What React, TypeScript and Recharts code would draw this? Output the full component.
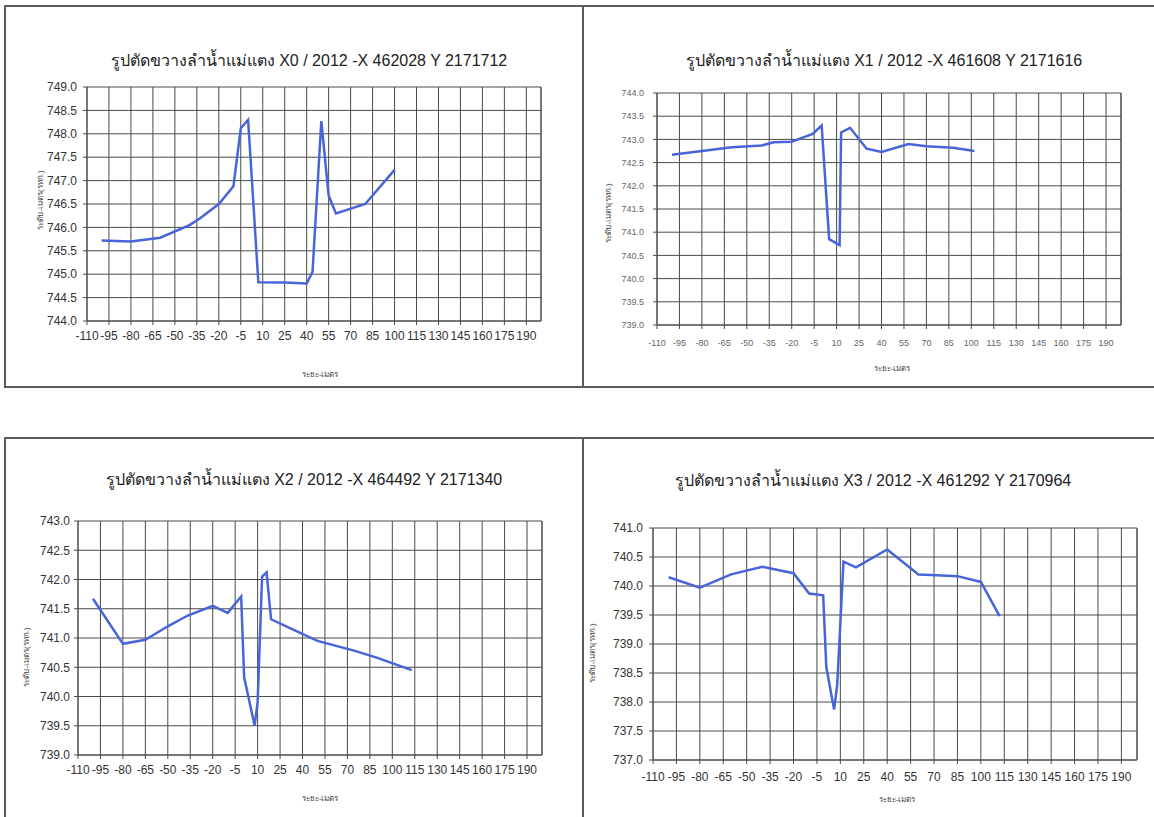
import React from "react";
import {
  CartesianGrid,
  Line,
  LineChart,
  ReferenceLine,
  XAxis,
  YAxis,
} from "recharts";

// chainage (m) against bed level (m MSL) for the four river cross sections
const x0Dist = [-100, -80, -60, -40, -33, -20, -10, -5, 0, 7, 25, 40, 44, 50, 55, 60, 80, 100];
const x0Level = [745.72, 745.7, 745.78, 746.05, 746.19, 746.5, 746.88, 748.12, 748.3, 744.83, 744.82, 744.8, 745.05, 748.27, 746.68, 746.3, 746.5, 747.23];

const x1Dist = [-100, -80, -60, -40, -32, -20, -6, 0, 5, 12, 13, 19, 30, 40, 58, 70, 88, 102];
const x1Level = [742.67, 742.75, 742.83, 742.87, 742.94, 742.95, 743.12, 743.3, 740.85, 740.72, 743.15, 743.25, 742.8, 742.73, 742.9, 742.85, 742.82, 742.75];

const x2Dist = [-100, -80, -65, -50, -37, -20, -10, -1, 1, 8, 10, 13, 16, 19, 33, 50, 75, 90, 113];
const x2Level = [741.67, 740.9, 740.97, 741.2, 741.38, 741.55, 741.43, 741.71, 740.33, 739.5, 739.9, 742.05, 742.12, 741.32, 741.15, 740.95, 740.78, 740.66, 740.45];

const x3Dist = [-100, -80, -60, -40, -20, -10, -1, 1, 6, 8, 12, 20, 40, 60, 68, 85, 100, 112];
const x3Level = [740.15, 739.97, 740.2, 740.33, 740.22, 739.87, 739.84, 738.6, 737.87, 738.3, 740.42, 740.32, 740.63, 740.2, 740.19, 740.17, 740.07, 739.48];

const distTicks = [-110, -95, -80, -65, -50, -35, -20, -5, 10, 25, 40, 55, 70, 85, 100, 115, 130, 145, 160, 175, 190];
const x0LevelTicks = [744, 744.5, 745, 745.5, 746, 746.5, 747, 747.5, 748, 748.5, 749];
const x1LevelTicks = [739, 739.5, 740, 740.5, 741, 741.5, 742, 742.5, 743, 743.5, 744];
const x2LevelTicks = [739, 739.5, 740, 740.5, 741, 741.5, 742, 742.5, 743];
const x3LevelTicks = [737, 737.5, 738, 738.5, 739, 739.5, 740, 740.5, 741];

const titles = [
  "รูปตัดขวางลำน้ำแม่แตง X0 / 2012 -X 462028 Y 2171712",
  "รูปตัดขวางลำน้ำแม่แตง X1 / 2012 -X 461608 Y 2171616",
  "รูปตัดขวางลำน้ำแม่แตง X2 / 2012 -X 464492 Y 2171340",
  "รูปตัดขวางลำน้ำแม่แตง X3 / 2012 -X 461292 Y 2170964",
];
const xLabel = "ระยะ-เมตร";
const yLabel = "ระดับ-เมตร(รทก.)";

const FONT = "'Liberation Sans', Arial, 'Noto Sans', sans-serif";
const LINE = "#4765d8";
const GRID = "#4a4a4a";

type Box = { x: number; y: number; w: number; h: number };
type PanelProps = {
  title: string;
  dist: number[];
  level: number[];
  levelTicks: number[];
  box: Box;
  plot: { l: number; r: number; t: number; b: number };
  titleAt: [number, number];
  xLabelAt: [number, number];
  yLabelAt: [number, number];
  tickFont: number;
  tickColor: string;
  xTickGap: number;
  yTickGap: number;
};

function Panel(p: PanelProps) {
  const data = p.dist.map((d, i) => ({ d, v: p.level[i] }));
  const xAxisH = 24;
  const yMin = p.levelTicks[0];
  const yMax = p.levelTicks[p.levelTicks.length - 1];
  const tick = { fill: p.tickColor, fontSize: p.tickFont, fontFamily: FONT };

  return (
    <>
      <div style={{ position: "absolute", left: p.box.x, top: p.box.y }}>
        <LineChart
          width={p.box.w}
          height={p.box.h}
          data={data}
          margin={{
            top: p.plot.t - p.box.y,
            right: p.box.x + p.box.w - p.plot.r,
            bottom: p.box.y + p.box.h - p.plot.b - xAxisH,
            left: 0,
          }}
        >
          <CartesianGrid stroke={GRID} strokeWidth={1} />
          <XAxis
            dataKey="d"
            type="number"
            domain={[-110, 200]}
            ticks={distTicks}
            interval={0}
            height={xAxisH}
            tick={tick}
            tickSize={4}
            tickMargin={p.xTickGap}
            stroke={GRID}
            allowDataOverflow
          />
          <YAxis
            type="number"
            domain={[yMin, yMax]}
            ticks={p.levelTicks}
            interval={0}
            width={p.plot.l - p.box.x}
            tick={tick}
            tickSize={4}
            tickMargin={p.yTickGap}
            tickFormatter={(v: number) => v.toFixed(1)}
            stroke={GRID}
            allowDataOverflow
          />
          <ReferenceLine x={200} stroke={GRID} strokeWidth={1} />
          <Line
            dataKey="v"
            type="linear"
            stroke={LINE}
            strokeWidth={2.5}
            dot={false}
            isAnimationActive={false}
          />
        </LineChart>
      </div>
      <div
        style={{
          position: "absolute",
          left: p.titleAt[0],
          top: p.titleAt[1],
          transform: "translate(-50%, -50%)",
          whiteSpace: "nowrap",
          fontFamily: FONT,
          fontSize: 16,
          color: "#222",
        }}
      >
        {p.title}
      </div>
      <div
        style={{
          position: "absolute",
          left: p.xLabelAt[0],
          top: p.xLabelAt[1],
          transform: "translate(-50%, -50%)",
          whiteSpace: "nowrap",
          fontFamily: FONT,
          fontSize: 8,
          color: "#444",
        }}
      >
        {xLabel}
      </div>
      <div
        style={{
          position: "absolute",
          left: p.yLabelAt[0],
          top: p.yLabelAt[1],
          transform: "translate(-50%, -50%) rotate(-90deg)",
          whiteSpace: "nowrap",
          fontFamily: FONT,
          fontSize: 8,
          color: "#444",
        }}
      >
        {yLabel}
      </div>
    </>
  );
}

function Rule({ x, y, w, h }: Box) {
  return (
    <div style={{ position: "absolute", left: x, top: y, width: w, height: h, background: "#5a5a5a" }} />
  );
}

export default function App() {
  return (
    <div
      style={{
        position: "absolute",
        left: 0,
        top: 0,
        width: 1154,
        height: 817,
        background: "#fff",
        overflow: "hidden",
      }}
    >
      <Panel
        title={titles[0]}
        dist={x0Dist}
        level={x0Level}
        levelTicks={x0LevelTicks}
        box={{ x: 6, y: 7, w: 576, h: 379 }}
        plot={{ l: 87, r: 541, t: 87, b: 321 }}
        titleAt={[309, 60]}
        xLabelAt={[320, 374]}
        yLabelAt={[40, 200]}
        tickFont={12}
        tickColor="#333"
        xTickGap={6}
        yTickGap={6}
      />
      <Panel
        title={titles[1]}
        dist={x1Dist}
        level={x1Level}
        levelTicks={x1LevelTicks}
        box={{ x: 584, y: 7, w: 570, h: 379 }}
        plot={{ l: 657, r: 1121, t: 93, b: 325 }}
        titleAt={[884, 60]}
        xLabelAt={[892, 368]}
        yLabelAt={[608, 213]}
        tickFont={9}
        tickColor="#666"
        xTickGap={11}
        yTickGap={9}
      />
      <Panel
        title={titles[2]}
        dist={x2Dist}
        level={x2Level}
        levelTicks={x2LevelTicks}
        box={{ x: 6, y: 439, w: 576, h: 378 }}
        plot={{ l: 78, r: 542, t: 521, b: 755 }}
        titleAt={[304, 479]}
        xLabelAt={[320, 798]}
        yLabelAt={[26, 657]}
        tickFont={12}
        tickColor="#333"
        xTickGap={6}
        yTickGap={4}
      />
      <Panel
        title={titles[3]}
        dist={x3Dist}
        level={x3Level}
        levelTicks={x3LevelTicks}
        box={{ x: 584, y: 439, w: 570, h: 378 }}
        plot={{ l: 653, r: 1137, t: 528, b: 760 }}
        titleAt={[873, 480]}
        xLabelAt={[897, 799]}
        yLabelAt={[592, 653]}
        tickFont={12}
        tickColor="#333"
        xTickGap={8}
        yTickGap={6}
      />
      <Rule x={5} y={5} w={1149} h={2} />
      <Rule x={5} y={386} w={1149} h={2} />
      <Rule x={5} y={437} w={1149} h={2} />
      <Rule x={4} y={5} w={2} h={383} />
      <Rule x={4} y={437} w={2} h={380} />
      <Rule x={582} y={5} w={2} h={383} />
      <Rule x={582} y={437} w={2} h={380} />
    </div>
  );
}
